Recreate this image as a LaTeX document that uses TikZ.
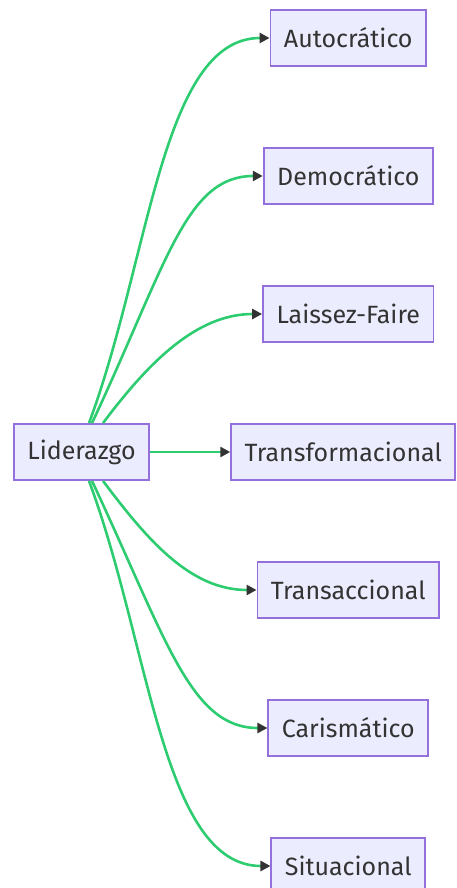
\documentclass[tikz,border=0pt]{standalone}
\usepackage{fontspec}
\setmainfont{Fira Sans}
\usetikzlibrary{arrows.meta, positioning}

\definecolor{boxfill}{HTML}{ECECFF}
\definecolor{boxline}{HTML}{9370DB}
\definecolor{linkgreen}{HTML}{2ECC71}
\definecolor{textgray}{HTML}{333333}

\begin{document}
\begin{tikzpicture}[
        x=1pt, y=1pt,
        node distance=80.2pt,
        box/.style={draw=boxline, fill=boxfill, line width=1.8pt, rectangle, align=center,
            minimum height=56pt, inner xsep=13.5pt, text=textgray, font=\fontsize{25}{30}\selectfont},
        link/.style={draw=linkgreen, line width=2.6pt,
            -{Triangle[length=10pt, width=10pt, color=textgray]}},
    ]
        \useasboundingbox (0,0) rectangle (456,-888);
        \node[box] (lider) at (81.5,-452) {Liderazgo};
        \node[box, right=of lider] (transform) {Transformacional};
        \node[box, above=of transform, xshift=5pt] (laissez) {Laissez-Faire};
        \node[box, above=of laissez] (democ) {Democrático};
        \node[box, above=of democ] (autoc) {Autocrático};
        \node[box, below=of transform, xshift=5pt] (transac) {Transaccional};
        \node[box, below=of transac] (carism) {Carismático};
        \node[box, below=of carism] (situac) {Situacional};

        % hacia arriba
        \draw[link] ([xshift=7.5pt]lider.north) .. controls +(61,164) and +(-108,0) .. (autoc.west);
        \draw[link] ([xshift=10.5pt]lider.north) .. controls +(75,160) and +(-77,0) .. (democ.west);
        \draw[link] ([xshift=21.5pt]lider.north) .. controls +(45,60) and +(-66,0) .. (laissez.west);
        \draw[link] (lider) -- (transform);
        % hacia abajo
        \draw[link] ([xshift=21.5pt]lider.south) .. controls +(45,-60) and +(-66,0) .. (transac.west);
        \draw[link] ([xshift=10.5pt]lider.south) .. controls +(75,-160) and +(-77,0) .. (carism.west);
        \draw[link] ([xshift=7.5pt]lider.south) .. controls +(61,-164) and +(-108,0) .. (situac.west);
\end{tikzpicture}
\end{document}
